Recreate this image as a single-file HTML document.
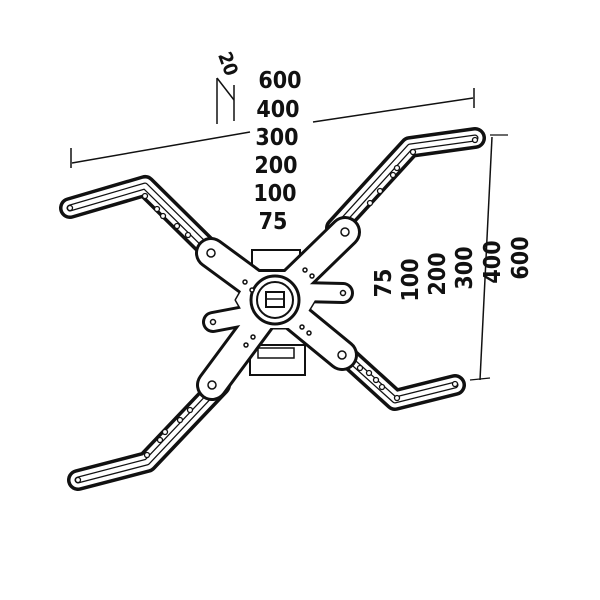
<!DOCTYPE html>
<html><head><style>
html,body{margin:0;padding:0;background:#fff;}
svg{display:block}
text{font-family:"DejaVu Sans Condensed","DejaVu Sans","Liberation Sans",sans-serif;font-weight:bold;fill:#111;}
</style></head><body>
<svg width="600" height="600" viewBox="0 0 600 600" xmlns="http://www.w3.org/2000/svg">
<g stroke="#111" fill="none" stroke-width="1.5">
  <line x1="72" y1="163" x2="250" y2="132"/>
  <line x1="313" y1="122" x2="473" y2="98"/>
  <line x1="71" y1="148" x2="71" y2="168"/>
  <line x1="474" y1="88" x2="474" y2="108"/>
  <line x1="492" y1="137" x2="480" y2="380"/>
  <line x1="490" y1="135" x2="508" y2="135" stroke-width="1.2"/>
  <line x1="470" y1="380" x2="490" y2="378" stroke-width="1.2"/>
  <line x1="217" y1="78" x2="217" y2="124"/>
  <line x1="234" y1="85" x2="234" y2="121"/>
  <line x1="217" y1="78" x2="234" y2="100"/>
</g>
<g stroke="#111" stroke-width="2" fill="#fff">
  <rect x="252" y="250" width="48" height="20"/>
  <rect x="250" y="345" width="55" height="30"/>
  <rect x="258" y="348" width="36" height="10" stroke-width="1.5"/>
</g>
<g fill="none" stroke-linecap="round" stroke-linejoin="round">
  <g stroke="#111" stroke-width="22">
    <polyline points="70,208 145,186 222,262"/>
    <polyline points="475,138 410,147 336,228"/>
    <polyline points="455,385 395,400 340,350"/>
    <polyline points="78,480 147,462 220,385"/>
  </g>
  <g stroke="#fff" stroke-width="15">
    <polyline points="70,208 145,186 222,262"/>
    <polyline points="475,138 410,147 336,228"/>
    <polyline points="455,385 395,400 340,350"/>
    <polyline points="78,480 147,462 220,385"/>
  </g>
  <g stroke="#111" stroke-width="7">
    <polyline points="70,208 145,186 215,255"/>
    <polyline points="475,138 410,147 340,224"/>
    <polyline points="455,385 395,400 345,355"/>
    <polyline points="78,480 147,462 215,390"/>
  </g>
  <g stroke="#fff" stroke-width="4.5">
    <polyline points="70,208 145,186 215,255"/>
    <polyline points="475,138 410,147 340,224"/>
    <polyline points="455,385 395,400 345,355"/>
    <polyline points="78,480 147,462 215,390"/>
  </g>
</g>
<g fill="#fff" stroke="#111" stroke-width="1.3">
  <circle cx="70" cy="208" r="2.5"/><circle cx="145" cy="196" r="2.5"/><circle cx="157" cy="209" r="2.5"/><circle cx="163" cy="216" r="2.5"/><circle cx="177" cy="226" r="2.5"/><circle cx="188" cy="235" r="2.5"/>
  <circle cx="475" cy="140" r="2.5"/><circle cx="413" cy="152" r="2.5"/><circle cx="397" cy="168" r="2.5"/><circle cx="393" cy="175" r="2.5"/><circle cx="380" cy="191" r="2.5"/><circle cx="370" cy="203" r="2.5"/>
  <circle cx="455" cy="384" r="2.5"/><circle cx="397" cy="398" r="2.5"/><circle cx="382" cy="387" r="2.5"/><circle cx="376" cy="380" r="2.5"/><circle cx="369" cy="373" r="2.5"/><circle cx="360" cy="368" r="2.5"/>
  <circle cx="78" cy="480" r="2.5"/><circle cx="147" cy="455" r="2.5"/><circle cx="160" cy="440" r="2.5"/><circle cx="165" cy="432" r="2.5"/><circle cx="180" cy="420" r="2.5"/><circle cx="190" cy="410" r="2.5"/>
</g>
<!-- center plate -->
<polygon points="252,272 298,272 315,300 298,328 252,328 236,300" fill="#fff" stroke="#111" stroke-width="3" stroke-linejoin="round"/>
<g fill="none" stroke-linecap="round" stroke-linejoin="round">
  <g stroke="#111" stroke-width="32">
    <line x1="275" y1="300" x2="211" y2="253"/>
    <line x1="275" y1="300" x2="345" y2="232"/>
    <line x1="275" y1="300" x2="212" y2="385"/>
    <line x1="275" y1="300" x2="342" y2="355"/>
  </g>
  <g stroke="#111" stroke-width="22">
    <line x1="250" y1="315" x2="213" y2="322"/>
    <line x1="300" y1="292" x2="343" y2="293"/>
  </g>
  <polygon points="252,272 298,272 315,300 298,328 252,328 236,300" fill="#fff" stroke="none"/>
  <g stroke="#fff" stroke-width="26">
    <line x1="275" y1="300" x2="211" y2="253"/>
    <line x1="275" y1="300" x2="345" y2="232"/>
    <line x1="275" y1="300" x2="212" y2="385"/>
    <line x1="275" y1="300" x2="342" y2="355"/>
  </g>
  <g stroke="#fff" stroke-width="16">
    <line x1="250" y1="315" x2="213" y2="322"/>
    <line x1="300" y1="292" x2="343" y2="293"/>
  </g>
</g>
<g stroke="#111" fill="#fff">
  <circle cx="275" cy="300" r="24" stroke-width="3" fill="#fff"/>
  <circle cx="275" cy="300" r="18" stroke-width="2"/>
  <rect x="266" y="292" width="18" height="15" stroke-width="2"/>
  <line x1="266" y1="299" x2="284" y2="299" stroke-width="1.5"/>
</g>
<g fill="#fff" stroke="#111" stroke-width="1.5">
  <circle cx="211" cy="253" r="4"/><circle cx="345" cy="232" r="4"/><circle cx="212" cy="385" r="4"/><circle cx="342" cy="355" r="4"/>
  <circle cx="213" cy="322" r="2.5"/><circle cx="343" cy="293" r="2.5"/>
  <circle cx="245" cy="282" r="2"/><circle cx="252" cy="290" r="2"/><circle cx="305" cy="270" r="2"/><circle cx="312" cy="276" r="2"/>
  <circle cx="246" cy="345" r="2"/><circle cx="253" cy="337" r="2"/><circle cx="302" cy="327" r="2"/><circle cx="309" cy="333" r="2"/>
</g>
<g font-size="23" text-anchor="middle">
  <text x="280" y="88">600</text>
  <text x="278" y="117">400</text>
  <text x="277" y="145">300</text>
  <text x="276" y="173">200</text>
  <text x="275" y="201">100</text>
  <text x="273" y="229">75</text>
</g>
<g font-size="23" text-anchor="middle">
  <text transform="translate(391,283) rotate(-90)">75</text>
  <text transform="translate(418,280) rotate(-90)">100</text>
  <text transform="translate(445,274) rotate(-90)">200</text>
  <text transform="translate(472,268) rotate(-90)">300</text>
  <text transform="translate(500,262) rotate(-90)">400</text>
  <text transform="translate(528,258) rotate(-90)">600</text>
  <text font-size="19" transform="translate(222,66) rotate(70)">20</text>
</g>
</svg>
</body></html>
